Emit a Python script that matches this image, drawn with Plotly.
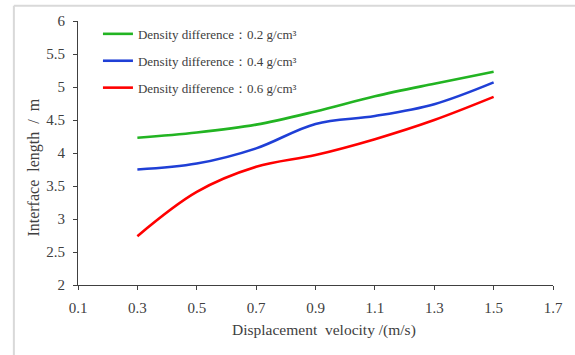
import plotly.graph_objects as go

# Displacement velocity (m/s)
velocity = [0.3, 0.5, 0.7, 0.9, 1.1, 1.3, 1.5]

# Interface length (m) for each density difference
length_02 = [4.23, 4.31, 4.43, 4.63, 4.86, 5.05, 5.23]
length_04 = [3.75, 3.84, 4.07, 4.44, 4.56, 4.74, 5.07]
length_06 = [2.74, 3.41, 3.79, 3.97, 4.21, 4.50, 4.85]

series_names = [
    "Density difference：0.2 g/cm³",
    "Density difference：0.4 g/cm³",
    "Density difference：0.6 g/cm³",
]
series_colors = ["#22b422", "#1f3fd6", "#ff0000"]

x_ticks = [0.1, 0.3, 0.5, 0.7, 0.9, 1.1, 1.3, 1.5, 1.7]
y_ticks = [2, 2.5, 3, 3.5, 4, 4.5, 5, 5.5, 6]

x_title = "Displacement\u00a0 velocity /(m/s)"
y_title = "Interface\u00a0 length\u00a0 /\u00a0 m"

FONT = "Liberation Serif, Times New Roman, serif"
INK = "#404040"

fig = go.Figure()
for i, (vals, name, color) in enumerate(zip([length_02, length_04, length_06], series_names, series_colors)):
    fig.add_trace(go.Scatter(
        x=velocity, y=vals, name=name, mode="lines",
        line=dict(color=color, width=2.6, shape="spline", smoothing=1.0),
        legendgroup=f"g{i}",
    ))

fig.update_layout(
    width=575, height=355,
    margin=dict(l=78, r=16, t=21, b=70),
    paper_bgcolor="white", plot_bgcolor="white",
    font=dict(family=FONT, size=15, color=INK),
    showlegend=True,
    legend=dict(
        x=0.042, y=1.008, xanchor="left", yanchor="top",
        bgcolor="rgba(0,0,0,0)", tracegroupgap=7,
        font=dict(family=FONT, size=13, color=INK),
    ),
    xaxis=dict(
        range=[0.1, 1.7], tickvals=x_ticks, ticktext=[f"{v:.1f}" for v in x_ticks],
        showgrid=False, zeroline=False, showline=True, linecolor=INK, linewidth=1,
        ticks="outside", ticklen=4, tickcolor=INK, ticklabelstandoff=5,
        tickfont=dict(family=FONT, size=15, color=INK),
    ),
    yaxis=dict(
        range=[2, 6], tickvals=y_ticks, ticktext=[f"{v:g}" for v in y_ticks],
        showgrid=False, zeroline=False, showline=True, linecolor=INK, linewidth=1,
        ticks="outside", ticklen=4, tickcolor=INK, ticklabelstandoff=5,
        tickfont=dict(family=FONT, size=15, color=INK),
    ),
    annotations=[
        dict(text=x_title, xref="paper", yref="paper", x=0.518, y=-0.170,
             xanchor="center", yanchor="middle", showarrow=False,
             font=dict(family=FONT, size=15.5, color=INK)),
        dict(text=y_title, xref="paper", yref="paper", x=-0.0915, y=0.443,
             xanchor="center", yanchor="middle", showarrow=False, textangle=-90,
             font=dict(family=FONT, size=16, color=INK)),
    ],
    shapes=[
        dict(type="line", xref="paper", yref="paper", x0=-0.135, x1=1.1, y0=1.058, y1=1.058,
             line=dict(color="#d9d9d9", width=2)),
        dict(type="line", xref="paper", yref="paper", x0=-0.135, x1=-0.135, y0=1.058, y1=-0.3,
             line=dict(color="#d9d9d9", width=2)),
    ],
)

fig.write_html("out.html")
